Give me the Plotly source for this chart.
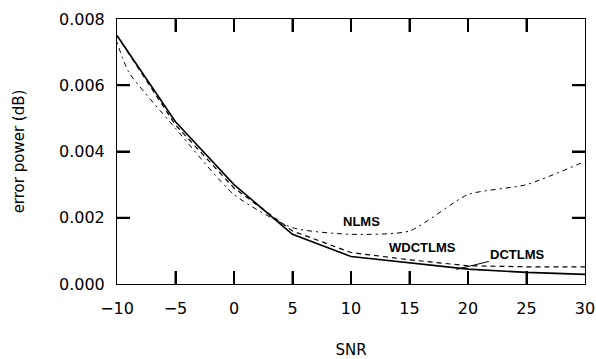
import plotly.graph_objects as go

snr = [-10, -5, 0, 5, 10, 15, 20, 25, 30]
dctlms = [0.0075, 0.0049, 0.0030, 0.0015, 0.00083, 0.00064, 0.00045, 0.00035, 0.00029]
wdctlms = [0.0075, 0.0048, 0.0029, 0.0016, 0.00095, 0.00073, 0.00055, 0.00052, 0.00052]
snr_nlms = [-10, -9, -5, 0, 5, 10, 15, 20, 25, 30]
nlms = [0.0073, 0.0064, 0.0047, 0.0027, 0.0017, 0.0015, 0.0016, 0.0027, 0.0030, 0.0037]

x_ticks = [-10, -5, 0, 5, 10, 15, 20, 25, 30]
y_ticks = [0.000, 0.002, 0.004, 0.006, 0.008]

W, H = 596, 359
ML, MR, MT, MB = 117, 11, 19, 75
TICKLEN = 13
plot_w = W - ML - MR
plot_h = H - MT - MB
x_rng = [x_ticks[0], x_ticks[-1]]
y_rng = [y_ticks[0], y_ticks[-1]]

fig = go.Figure()
fig.add_trace(go.Scatter(x=snr_nlms, y=nlms, mode="lines", name="NLMS",
                         line=dict(color="black", width=1, dash="2px,4px,5px,4px", shape="spline", smoothing=0.6)))
fig.add_trace(go.Scatter(x=snr, y=wdctlms, mode="lines", name="WDCTLMS",
                         line=dict(color="black", width=1.2, dash="5px,4px")))
fig.add_trace(go.Scatter(x=snr, y=dctlms, mode="lines", name="DCTLMS",
                         line=dict(color="black", width=1.6)))

# inward tick marks on all four sides, built from the tick lists
dy = (y_rng[1] - y_rng[0]) * TICKLEN / plot_h
dx = (x_rng[1] - x_rng[0]) * TICKLEN / plot_w
tx, ty = [], []
for t in x_ticks[1:-1]:
    tx += [t, t, None, t, t, None]
    ty += [y_rng[0], y_rng[0] + dy, None, y_rng[1], y_rng[1] - dy, None]
for t in y_ticks[1:-1]:
    tx += [x_rng[0], x_rng[0] + dx, None, x_rng[1], x_rng[1] - dx, None]
    ty += [t, t, None, t, t, None]
fig.add_trace(go.Scatter(x=tx, y=ty, mode="lines", line=dict(color="black", width=2),
                         hoverinfo="skip", connectgaps=False, showlegend=False))

lab_font = dict(family="Liberation Sans", size=13, color="black")
fig.add_annotation(x=10.9, y=0.00188, text="<b>NLMS</b>", showarrow=False, font=lab_font)
fig.add_annotation(x=16.15, y=0.00109, text="<b>WDCTLMS</b>", showarrow=False, font=lab_font)
fig.add_annotation(x=19.0, y=0.00044, text="<b>DCTLMS</b>", showarrow=True, arrowhead=0,
                   arrowwidth=1, arrowcolor="black", ax=61, ay=-15, font=lab_font)

axis_font = dict(family="DejaVu Sans", size=16, color="black")
fig.update_layout(
    width=W, height=H,
    margin=dict(l=ML, r=MR, t=MT, b=MB, autoexpand=False),
    paper_bgcolor="white", plot_bgcolor="white",
    showlegend=False,
    font=axis_font,
    xaxis=dict(range=x_rng, tickvals=x_ticks, ticks="inside", ticklen=TICKLEN, tickwidth=2,
               tickcolor="black",
               showline=True, linecolor="black", linewidth=1, mirror="ticks",
               showgrid=False, zeroline=False, automargin=False, ticklabelstandoff=10,
               title=dict(text="SNR", standoff=34, font=dict(family="DejaVu Sans", size=15))),
    yaxis=dict(range=y_rng, tickvals=y_ticks, tickformat=".3f", ticks="inside", ticklen=TICKLEN,
               tickwidth=2, tickcolor="black",
               showline=True, linecolor="black", linewidth=1, mirror="ticks",
               showgrid=False, zeroline=False, automargin=False, ticklabelstandoff=8,
               title=dict(text="error power (dB)", standoff=30, font=dict(family="DejaVu Sans", size=15))),
)

fig.write_html("out.html")
